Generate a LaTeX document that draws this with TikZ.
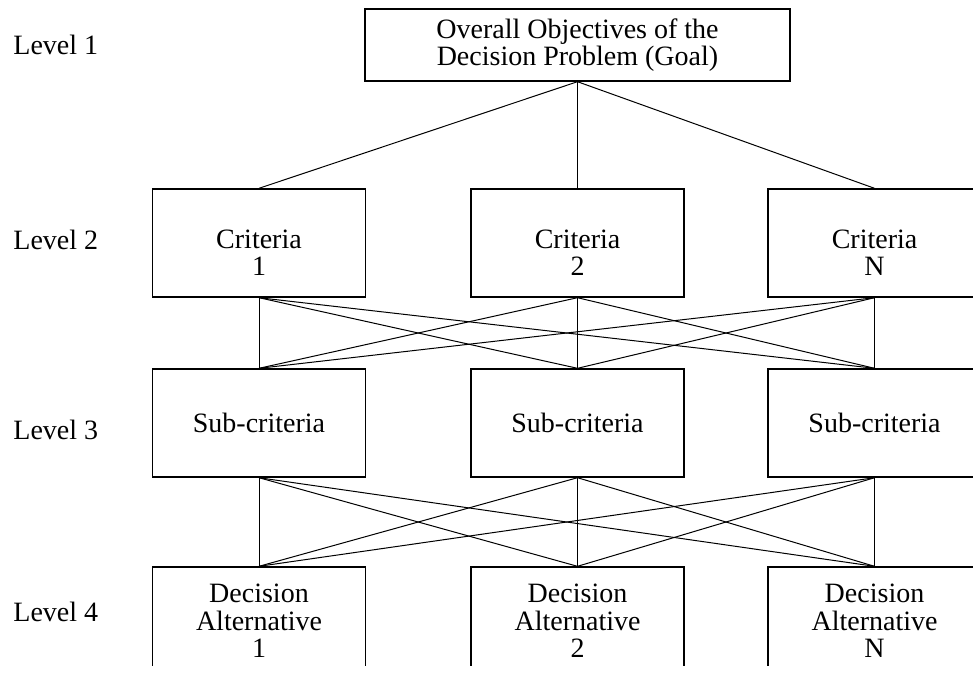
\documentclass[tikz,border=0pt]{standalone}
\usepackage{fontspec}
\setmainfont{Liberation Serif}
\begin{document}
\begin{tikzpicture}[x=0.5pt,y=-0.5pt,
    box/.style={draw, line width=0.7pt, minimum width=106.5pt, minimum height=54pt,
                inner sep=0pt, align=center, font=\fontsize{14}{13.8}\selectfont},
    goalbox/.style={box, minimum width=212.5pt, minimum height=36pt,
                font=\fontsize{14}{12.5}\selectfont},
    ctext/.style={align=center, inner sep=0pt, yshift=-5pt,
                font=\fontsize{14}{13.5}\selectfont},
    lvl/.style={anchor=west, inner sep=0pt, font=\fontsize{14}{14}\selectfont},
    link/.style={line width=0.5pt}]
    \useasboundingbox (0,0) rectangle (973,675);
    \clip (0,0) rectangle (973,665);

    % levels
    \node[lvl] (l1) at (13,45)  {Level 1};
    \node[lvl] (l2) at (13,240) {Level 2};
    \node[lvl] (l3) at (13,430) {Level 3};
    \node[lvl] (l4) at (13,612) {Level 4};

    % goal
    \node[goalbox] (goal) at (577.5,45) {Overall Objectives of the\\Decision Problem (Goal)};

    % criteria
    \node[box, label={[ctext]center:{Criteria\\1}}] (c1) at (259,243)   {};
    \node[box, label={[ctext]center:{Criteria\\2}}] (c2) at (577.5,243) {};
    \node[box, label={[ctext]center:{Criteria\\N}}] (cn) at (874.5,243) {};

    % sub-criteria
    \node[box] (s1) at (259,423)   {Sub-criteria};
    \node[box] (s2) at (577.5,423) {Sub-criteria};
    \node[box] (sn) at (874.5,423) {Sub-criteria};

    % alternatives
    \node[box] (a1) at (259,621)   {Decision\\Alternative\\1};
    \node[box] (a2) at (577.5,621) {Decision\\Alternative\\2};
    \node[box] (an) at (874.5,621) {Decision\\Alternative\\N};

    \foreach \c in {c1,c2,cn}
        \draw[link] (goal.south) -- (\c.north);
    \foreach \c in {c1,c2,cn}
        \foreach \s in {s1,s2,sn}
            \draw[link] (\c.south) -- (\s.north);
    \foreach \s in {s1,s2,sn}
        \foreach \a in {a1,a2,an}
            \draw[link] (\s.south) -- (\a.north);
\end{tikzpicture}
\end{document}
